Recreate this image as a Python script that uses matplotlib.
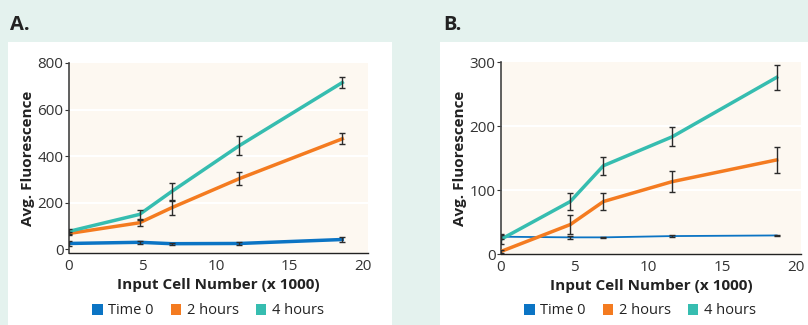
import numpy as np
import matplotlib.pyplot as plt
from matplotlib.patches import Rectangle

plt.rcParams['font.family'] = ['Open Sans', 'DejaVu Sans']

# panel A data
a_x = [0, 4.8, 7.0, 11.6, 18.6]
a_time0 = [24, 29, 23, 24, 41]
a_time0_err = [10, 6, 5, 8, 11]
a_2h = [67, 113, 178, 303, 474]
a_2h_err = [8, 14, 30, 28, 24]
a_4h = [76, 149, 248, 445, 716]
a_4h_err = [10, 21, 36, 41, 23]

# panel B data
b_x = [0, 4.7, 6.95, 11.6, 18.7]
b_time0 = [27, 26, 26, 28, 29]
b_time0_err = [3, 2, 1, 1, 1]
b_2h = [4, 46, 82, 113, 147]
b_2h_err = [3, 15, 14, 16, 20]
b_4h = [23, 82, 138, 183, 276]
b_4h_err = [8, 13, 14, 15, 19]

labels = ['Time 0', '2 hours', '4 hours']
colors = ['#0b74c4', '#f47b20', '#36bdb0']
yticks_a = [0, 200, 400, 600, 800]
yticks_b = [0, 100, 200, 300]
xticks = [0, 5, 10, 15, 20]

fig = plt.figure(figsize=(8.08, 3.25), dpi=100)
fig.patch.set_facecolor('#e4f2ee')
fig.patches.append(Rectangle((8 / 808, 0), 384 / 808, 1 - 42 / 325,
                             transform=fig.transFigure, facecolor='white', edgecolor='none', zorder=-5))
fig.patches.append(Rectangle((440 / 808, 0), 368 / 808, 1 - 42 / 325,
                             transform=fig.transFigure, facecolor='white', edgecolor='none', zorder=-5))

ax_a = fig.add_axes([69 / 808, 72 / 325, 299 / 808, 190 / 325])
ax_b = fig.add_axes([501 / 808, 71 / 325, 300 / 808, 192 / 325])


def draw_panel(ax, x, series, errs, yticks, ylim, lws):
    ax.set_facecolor('#fdf8f1')
    for v in yticks[1:-1]:
        ax.axhline(v, color='white', linewidth=1.5, zorder=1)
    for y, e, c, lw in zip(series, errs, colors, lws):
        ax.plot(x, y, color=c, linewidth=lw, zorder=3)
        ax.errorbar(x, y, yerr=e, fmt='none', ecolor='#2b2b2b', elinewidth=1.0,
                    capsize=2, capthick=1.0, zorder=4)
    ax.set_xlim(0, 20.35)
    ax.set_ylim(*ylim)
    ax.set_xticks(xticks)
    ax.set_yticks(yticks)
    ax.tick_params(axis='both', labelsize=11, colors='#333333', length=3, width=0.8, pad=1)
    ax.tick_params(axis='x', length=0, pad=4)
    for s in ['top', 'right']:
        ax.spines[s].set_visible(False)
    ax.spines['left'].set_color('#444444')
    ax.spines['left'].set_linewidth(1.2)
    ax.spines['bottom'].set_color('#222222')
    ax.spines['bottom'].set_linewidth(1.0)
    ax.set_xlabel('Input Cell Number (x 1000)', fontsize=11, fontweight='bold', color='#222222', labelpad=3)
    ax.set_ylabel('Avg. Fluorescence', fontsize=11, fontweight='bold', color='#222222', labelpad=2)


draw_panel(ax_a, a_x, [a_time0, a_2h, a_4h], [a_time0_err, a_2h_err, a_4h_err],
           yticks_a, (-17, 800), [2.5, 2.5, 2.5])
draw_panel(ax_b, b_x, [b_time0, b_2h, b_4h], [b_time0_err, b_2h_err, b_4h_err],
           yticks_b, (0, 300), [1.3, 2.5, 2.5])

fig.text(10 / 808, 1 - 25 / 325, 'A.', fontsize=14.5, fontweight='bold', va='center', color='#222222')
fig.text(443 / 808, 1 - 25 / 325, 'B.', fontsize=14.5, fontweight='bold', va='center', color='#222222')

handles = [Rectangle((0, 0), 1, 1, facecolor=c) for c in colors]
for cx in [208 / 808, 640 / 808]:
    fig.legend(handles, labels, loc='center', bbox_to_anchor=(cx, 1 - 311 / 325), ncol=3,
               frameon=False, fontsize=10.5, handlelength=0.7, handleheight=0.7,
               handletextpad=0.4, columnspacing=1.15, labelcolor='#222222')

fig.savefig('out.png', dpi=100, facecolor=fig.get_facecolor())
